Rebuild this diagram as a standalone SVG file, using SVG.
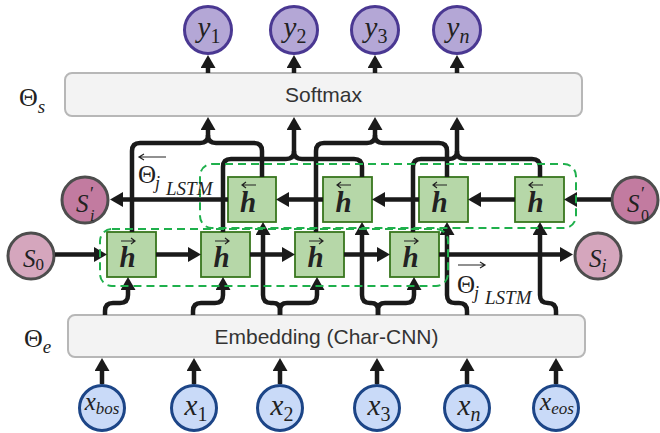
<svg xmlns="http://www.w3.org/2000/svg" width="660" height="433" viewBox="0 0 660 433">
<defs>
<marker id="ah" markerUnits="userSpaceOnUse" markerWidth="14" markerHeight="15" viewBox="0 0 14 15" refX="3" refY="7.5" orient="auto"><path d="M0,0 L13,7.5 L0,15 z" fill="#1a1a1a"/></marker>
<style>
.box{fill:#f3f3f3;stroke:#b7b7b7;stroke-width:2}
.lbl{font-family:"Liberation Sans",Arial,sans-serif;font-size:21px;fill:#333}
.h{fill:#b6d7a8;stroke:#38761d;stroke-width:1.8}
.ht{font-family:"Liberation Serif",serif;font-weight:bold;font-style:italic;font-size:29px;fill:#222}
.ov{fill:none;stroke:#222;stroke-width:1.2}
.yc{fill:#b4a7d6;stroke:#4a3892;stroke-width:3}
.xc{fill:#c9daf8;stroke:#1c4587;stroke-width:3}
.sd{fill:#c27ba0;stroke:#4d4d4d;stroke-width:3}
.sl{fill:#d5a6bd;stroke:#4d4d4d;stroke-width:3}
.m{font-family:"Liberation Serif",serif;fill:#222}
.i{font-style:italic}
.c path{fill:none;stroke:#1a1a1a;stroke-width:4.5}
.a{marker-end:url(#ah)}
.dash{fill:none;stroke:#1fb04c;stroke-width:2;stroke-dasharray:8 5}
</style>
</defs>

<g id="softmax"><rect class="box" x="65" y="73" width="517" height="43" rx="7"/><text class="lbl" x="323.5" y="102" text-anchor="middle">Softmax</text></g>
<g id="embedding"><rect class="box" x="68" y="315" width="517" height="42" rx="7"/><text class="lbl" x="326.5" y="344" text-anchor="middle">Embedding (Char-CNN)</text></g>

<g id="theta-s"><text class="m" x="19" y="106" font-size="26">Θ<tspan class="i" font-size="19" dy="7">s</tspan></text></g>
<g id="theta-e"><text class="m" x="24" y="347" font-size="26">Θ<tspan class="i" font-size="19" dy="6">e</tspan></text></g>

<g id="y1"><circle class="yc" cx="208" cy="30" r="23.5"/><text class="m" x="209" y="37" text-anchor="middle"><tspan class="i" font-size="29">y</tspan><tspan font-size="20" dy="6">1</tspan></text></g>
<g id="y2"><circle class="yc" cx="294" cy="30" r="23.5"/><text class="m" x="295" y="37" text-anchor="middle"><tspan class="i" font-size="29">y</tspan><tspan font-size="20" dy="6">2</tspan></text></g>
<g id="y3"><circle class="yc" cx="375" cy="30" r="23.5"/><text class="m" x="376" y="37" text-anchor="middle"><tspan class="i" font-size="29">y</tspan><tspan font-size="20" dy="6">3</tspan></text></g>
<g id="yn"><circle class="yc" cx="457" cy="30" r="23.5"/><text class="m" x="458" y="37" text-anchor="middle"><tspan class="i" font-size="29">y</tspan><tspan class="i" font-size="20" dy="6">n</tspan></text></g>

<g id="xbos"><circle class="xc" cx="102" cy="408" r="22.5"/><text class="m i" x="102" y="410" text-anchor="middle"><tspan font-size="25">x</tspan><tspan font-size="17" dy="4">bos</tspan></text></g>
<g id="x1"><circle class="xc" cx="194" cy="408" r="22.5"/><text class="m" x="196" y="415" text-anchor="middle"><tspan class="i" font-size="29">x</tspan><tspan font-size="20" dy="6">1</tspan></text></g>
<g id="x2"><circle class="xc" cx="280" cy="408" r="22.5"/><text class="m" x="282" y="415" text-anchor="middle"><tspan class="i" font-size="29">x</tspan><tspan font-size="20" dy="6">2</tspan></text></g>
<g id="x3"><circle class="xc" cx="377" cy="408" r="22.5"/><text class="m" x="379" y="415" text-anchor="middle"><tspan class="i" font-size="29">x</tspan><tspan font-size="20" dy="6">3</tspan></text></g>
<g id="xn"><circle class="xc" cx="467" cy="408" r="22.5"/><text class="m i" x="469" y="415" text-anchor="middle"><tspan font-size="29">x</tspan><tspan font-size="20" dy="6">n</tspan></text></g>
<g id="xeos"><circle class="xc" cx="556" cy="408" r="22.5"/><text class="m i" x="557" y="410" text-anchor="middle"><tspan font-size="25">x</tspan><tspan font-size="17" dy="4">eos</tspan></text></g>

<g id="S0"><circle class="sl" cx="31" cy="256" r="23"/><text class="m" x="23" y="267"><tspan class="i" font-size="25">S</tspan><tspan font-size="17" dy="3">0</tspan></text></g>
<g id="Si"><circle class="sl" cx="598" cy="256" r="23"/><text class="m i" x="589" y="267"><tspan font-size="25">S</tspan><tspan font-size="18" dy="5">i</tspan></text></g>
<g id="Spi"><circle class="sd" cx="85" cy="200" r="23"/><text class="m i" x="76" y="212" font-size="25">S</text><text class="m" x="90" y="200" font-size="18">′</text><text class="m i" x="90" y="221" font-size="16">i</text></g>
<g id="Sp0"><circle class="sd" cx="635" cy="200" r="23"/><text class="m i" x="627" y="212" font-size="25">S</text><text class="m" x="641" y="200" font-size="18">′</text><text class="m" x="641" y="221" font-size="16">0</text></g>

<g id="hb1"><rect class="h" x="228" y="177" width="48" height="45"/><path class="ov" d="M256,185 H242 M246,182 L242,185 L246,188"/><text class="ht" x="248" y="212" text-anchor="middle">h</text></g>
<g id="hb2"><rect class="h" x="323" y="177" width="49" height="45"/><path class="ov" d="M351,185 H337 M341,182 L337,185 L341,188"/><text class="ht" x="343.5" y="212" text-anchor="middle">h</text></g>
<g id="hb3"><rect class="h" x="419" y="177" width="49" height="45"/><path class="ov" d="M447,185 H433 M437,182 L433,185 L437,188"/><text class="ht" x="439.5" y="212" text-anchor="middle">h</text></g>
<g id="hb4"><rect class="h" x="515" y="177" width="49" height="45"/><path class="ov" d="M543,185 H529 M533,182 L529,185 L533,188"/><text class="ht" x="535.5" y="212" text-anchor="middle">h</text></g>

<g id="hf1"><rect class="h" x="107" y="232" width="49" height="45"/><path class="ov" d="M121,241 H135 M131,238 L135,241 L131,244"/><text class="ht" x="127.5" y="267" text-anchor="middle">h</text></g>
<g id="hf2"><rect class="h" x="201" y="232" width="49" height="45"/><path class="ov" d="M215,241 H229 M225,238 L229,241 L225,244"/><text class="ht" x="221.5" y="267" text-anchor="middle">h</text></g>
<g id="hf3"><rect class="h" x="295" y="232" width="49" height="45"/><path class="ov" d="M309,241 H323 M319,238 L323,241 L319,244"/><text class="ht" x="315.5" y="267" text-anchor="middle">h</text></g>
<g id="hf4"><rect class="h" x="390" y="232" width="49" height="45"/><path class="ov" d="M404,241 H418 M414,238 L418,241 L414,244"/><text class="ht" x="410.5" y="267" text-anchor="middle">h</text></g>

<g id="connectors" class="c">
<path class="a" d="M208,73 V65"/><path class="a" d="M294,73 V65"/><path class="a" d="M375,73 V65"/><path class="a" d="M457,73 V65"/>
<path class="a" d="M102,384 V368"/><path class="a" d="M194,384 V368"/><path class="a" d="M280,384 V368"/><path class="a" d="M377,384 V368"/><path class="a" d="M467,384 V368"/><path class="a" d="M556,384 V368"/>
<path class="a" d="M55,254.5 H97"/><path class="a" d="M156,254.5 H191"/><path class="a" d="M250,254.5 H285"/><path class="a" d="M344,254.5 H380"/><path class="a" d="M439,254.5 H563"/>
<path class="a" d="M611,199.5 H574"/><path class="a" d="M515,199.5 H478"/><path class="a" d="M419,199.5 H382"/><path class="a" d="M323,199.5 H286"/><path class="a" d="M228,199.5 H120"/>
<path class="a" d="M105,315 V311 Q105,303 113,303 H120 Q128,303 128,295 V287"/>
<path class="a" d="M193,315 V311 Q193,303 201,303 H215 Q223,303 223,295 V287"/>
<path class="a" d="M280,315 V310 Q280,303 273,303 H271 Q263,303 263,295 V232"/>
<path class="a" d="M280,315 V310 Q280,303 287,303 H309 Q317,303 317,295 V287"/>
<path class="a" d="M378,315 V310 Q378,303 371,303 H370 Q362,303 362,295 V232"/>
<path class="a" d="M378,315 V310 Q378,303 385,303 H406 Q414,303 414,295 V287"/>
<path class="a" d="M467,315 V311 Q467,303 459,303 H455 Q447,303 447,295 V232"/>
<path class="a" d="M556,315 V311 Q556,303 548,303 Q540,303 540,295 V232"/>
<path class="a" d="M132,232 V151 Q132,143 140,143 H200 Q208,143 208,135 V127"/>
<path d="M262,177 V151 Q262,143 254,143 H216 Q208,143 208,135"/>
<path class="a" d="M223,232 V167 Q223,159 231,159 H286 Q294,159 294,151 V127"/>
<path d="M362,177 V167 Q362,159 354,159 H302 Q294,159 294,151"/>
<path class="a" d="M316,232 V151 Q316,143 324,143 H367 Q375,143 375,135 V127"/>
<path d="M447,177 V151 Q447,143 439,143 H383 Q375,143 375,135"/>
<path class="a" d="M413,232 V167 Q413,159 421,159 H449 Q457,159 457,151 V127"/>
<path d="M540,177 V167 Q540,159 532,159 H465 Q457,159 457,151"/>
</g>

<g id="lstm-bwd"><rect class="dash" x="200" y="164" width="376" height="64" rx="12"/></g>
<g id="lstm-fwd"><rect class="dash" x="100" y="229" width="348" height="57" rx="12"/></g>

<g id="theta-bwd"><path class="ov" d="M166,157 H139 M144,154 L139,157 L144,160"/><text class="m" x="138" y="183" font-size="25">Θ<tspan class="i" font-size="18" x="155" y="189">j</tspan><tspan class="i" font-size="19" x="166" y="195">LSTM</tspan></text></g>
<g id="theta-fwd"><path class="ov" d="M458,265 H485 M480,262 L485,265 L480,268"/><text class="m" x="457" y="293" font-size="25">Θ<tspan class="i" font-size="18" x="474" y="299">j</tspan><tspan class="i" font-size="19" x="485" y="304">LSTM</tspan></text></g>
</svg>
